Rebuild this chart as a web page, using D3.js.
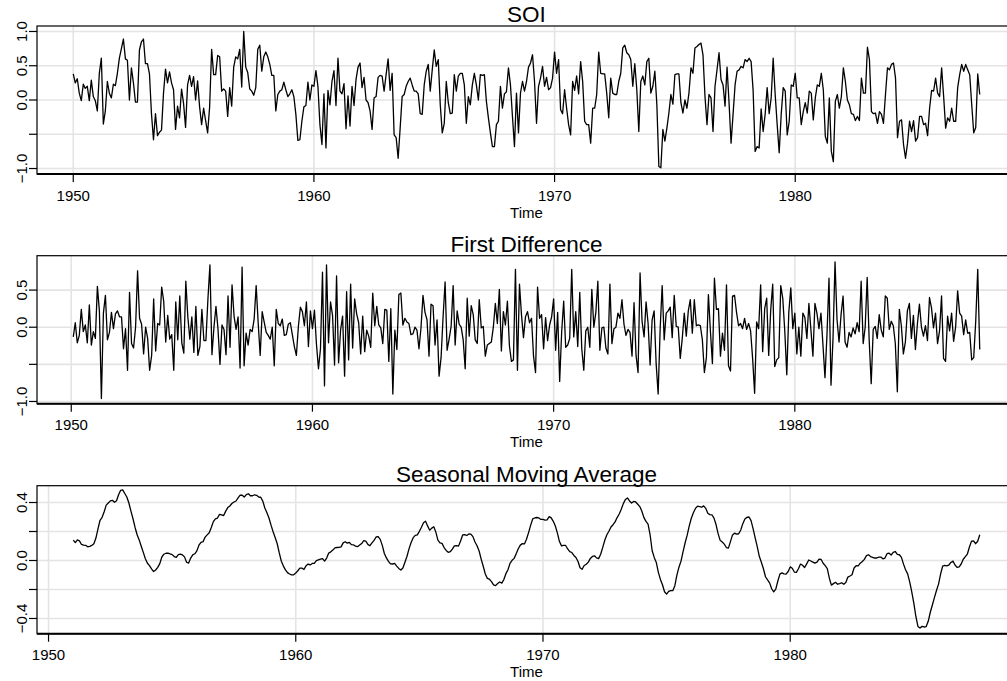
<!DOCTYPE html>
<html>
<head>
<meta charset="utf-8">
<script src="https://cdn.jsdelivr.net/npm/d3@7"></script>
<style>
  body { margin: 0; background: #fff; }
  svg { display: block; }
  text { font-family: "Liberation Sans", Arial, Helvetica, sans-serif; fill: #000; }
</style>
</head>
<body>
<div id="chart"></div>
<script>
// Monthly SOI, Jan 1950 - Sep 1987, one array per decade
const soi1950s = [
   0.38,  0.25,  0.31,  0.10, -0.01,  0.23,  0.17,  0.20, -0.01,  0.29,  0.05, -0.01,
  -0.16,  0.39,  0.61, -0.35, -0.16,  0.27,  0.10,  0.03,  0.23,  0.21,  0.39,  0.61,
   0.75,  0.89,  0.60,  0.58,  0.00,  0.47,  0.25, -0.03, -0.03,  0.73,  0.85,  0.89,
   0.53,  0.53,  0.38, -0.20, -0.58, -0.20, -0.52, -0.47, -0.44,  0.10,  0.45,  0.25,
   0.41,  0.25,  0.15, -0.43, -0.09, -0.26,  0.16, -0.05, -0.40,  0.22,  0.36,  0.20,
   0.34,  0.00,  0.28, -0.10, -0.36, -0.12, -0.30, -0.48, -0.10,  0.74,  0.37,  0.37,
   0.65,  0.63,  0.13,  0.16,  0.13, -0.24,  0.18, -0.09,  0.48,  0.63,  0.60,  0.74,
   0.19,  1.00,  0.48,  0.40,  0.16,  0.13,  0.07,  0.18,  0.74,  0.80,  0.42,  0.63,
   0.70,  0.63,  0.52,  0.36,  0.36, -0.16,  0.08,  0.13,  0.15,  0.26,  0.15,  0.05,
   0.09,  0.15,  0.05, -0.21, -0.59, -0.58, -0.31, -0.10, -0.08,  0.26,  0.00,  0.22
];
const soi1960s = [
   0.20,  0.43,  0.20, -0.36, -0.65,  0.09, -0.70,  0.14, -0.07,  0.27,  0.43, -0.08,
   0.61,  0.13,  0.09,  0.24, -0.42,  0.06, -0.38,  0.20, -0.08,  0.30,  0.48,  0.54,
   0.18,  0.33,  0.00, -0.04, -0.16, -0.43,  0.03,  0.05,  0.33,  0.36,  0.35,  0.13,
   0.37,  0.60,  0.14,  0.39, -0.51, -0.55, -0.85, -0.41,  0.05,  0.08,  0.20,  0.27,
   0.32,  0.22,  0.13,  0.13,  0.09, -0.20, -0.21,  0.22,  0.42,  0.52,  0.13,  0.44,
   0.73,  0.49,  0.59, -0.07, -0.48, -0.34,  0.27, -0.04, -0.20, -0.19,  0.37,  0.13,
   0.35,  0.39,  0.39,  0.22, -0.34,  0.05, -0.07,  0.22,  0.39,  0.22,  0.00,  0.37,
   0.36,  0.37, -0.02, -0.26, -0.48, -0.68, -0.68, -0.36, -0.31,  0.20, -0.12,  0.09,
   0.12,  0.47,  0.22, -0.24, -0.68,  0.10, -0.48,  0.10,  0.27,  0.13,  0.27,  0.48,
   0.54,  0.66,  0.27, -0.34,  0.20,  0.32,  0.49,  0.20,  0.33,  0.15,  0.18,  0.32
];
const soi1970s = [
   0.70,  0.39,  0.59, -0.14, -0.20,  0.15, -0.12, -0.36, -0.51,  0.27,  0.14,  0.35,
   0.09,  0.56,  0.27, -0.31, -0.36, -0.36, -0.63, -0.12, -0.12,  0.08,  0.70,  0.39,
   0.38,  0.38,  0.10, -0.26,  0.32,  0.10,  0.08,  0.08,  0.27,  0.39,  0.76,  0.80,
   0.69,  0.66,  0.59,  0.20,  0.53,  0.15, -0.46,  0.27,  0.35,  0.22,  0.56,  0.61,
   0.10,  0.20,  0.42, -0.07, -0.97, -0.99, -0.43, -0.60, -0.41, -0.19,  0.08, -0.06,
   0.37,  0.38,  0.38, -0.04, -0.19,  0.00, -0.12,  0.10,  0.47,  0.39,  0.76,  0.78,
   0.81,  0.83,  0.66,  0.05, -0.36,  0.08,  0.03, -0.46,  0.20,  0.44,  0.69,  0.30,
   0.22, -0.09,  0.48, -0.04, -0.63, -0.21,  0.22,  0.42,  0.44,  0.49,  0.47,  0.59,
   0.56,  0.61,  0.56,  0.14, -0.75, -0.68, -0.70, -0.13, -0.46, -0.21,  0.18, -0.20,
   0.03,  0.61,  0.08, -0.36, -0.77, -0.21,  0.18,  0.13, -0.51, -0.31,  0.22,  0.20
];
const soi1980s = [
   0.39,  0.03,  0.03, -0.36, -0.17, -0.04, -0.19,  0.13,  0.10, -0.29,  0.03,  0.22,
   0.20,  0.39,  0.15, -0.53, -0.63,  0.03, -0.75, -0.90, -0.02,  0.08, -0.12,  0.05,
   0.47,  0.27,  0.00, -0.07, -0.20, -0.21, -0.30, -0.24, -0.30,  0.32,  0.10,  0.10,
   0.77,  0.59, -0.17, -0.20, -0.19, -0.34, -0.17, -0.21, -0.34,  0.08,  0.47,  0.44,
   0.52,  0.54,  0.32, -0.55, -0.31, -0.29, -0.65, -0.85, -0.63, -0.31, -0.46, -0.30,
  -0.60, -0.55, -0.24, -0.24, -0.36, -0.34, -0.52, -0.12,  0.14,  0.13,  0.32,  0.10,
   0.05,  0.47,  0.05, -0.41, -0.26, -0.31, -0.12, -0.31, -0.31,  0.18,  0.37,  0.52,
   0.42,  0.52,  0.44,  0.37, -0.07, -0.48, -0.40,  0.38,  0.08
];

const startYear = 1950;
const freq = 12;

const panelTitles = ["SOI", "First Difference", "Seasonal Moving Average"];
const xTicks = [1950, 1960, 1970, 1980];
// y ranges of each panel
const yRanges = [[-1.08, 1.08], [-1.03, 0.963], [-0.505, 0.516]];
const yGridValues = [[-1, -0.5, 0, 0.5, 1], [-1, -0.5, 0, 0.5], [-0.4, -0.2, 0, 0.2, 0.4]];
const yLabelValues = [[-1, 0, 0.5, 1], [-1, 0, 0.5], [-0.4, 0, 0.4]];

// series
const soi = [].concat(soi1950s, soi1960s, soi1970s, soi1980s);
const soiSeries = soi.map((v, i) => ({ t: startYear + i / freq, v }));

// diff(soi)
const diffSeries = soi.slice(1).map((v, i) => ({ t: startYear + (i + 1) / freq, v: v - soi[i] }));

// kernapply(soi, modified.daniell 6), dated to end with the series
const kw = [0.5, 1, 1, 1, 1, 1, 1, 1, 1, 1, 1, 1, 0.5].map(w => w / 12);
const maSeries = [];
for (let i = 12; i < soi.length; i++) {
    let s = 0;
    for (let j = 0; j < 13; j++) s += kw[j] * soi[i - 12 + j];
    maSeries.push({ t: startYear + i / freq, v: s });
}

const allSeries = [soiSeries, diffSeries, maSeries];

// layout
const W = 1007, H = 681;
const left = 37, right = 1016;
const panelTops = [26, 255.7, 485.7];
const panelH = 148;

const svg = d3.select("#chart").append("svg")
    .attr("width", W)
    .attr("height", H);

svg.append("rect").attr("width", W).attr("height", H).attr("fill", "#fff");

const fmt = d3.format(".1f");

allSeries.forEach((series, p) => {
    const top = panelTops[p];
    const bottom = top + panelH;

    // R style 4% padding on time
    const tExt = d3.extent(series, d => d.t);
    const pad = (tExt[1] - tExt[0]) * 0.04;
    const x = d3.scaleLinear().domain([tExt[0] - pad, tExt[1] + pad]).range([left, right]);
    const y = d3.scaleLinear().domain(yRanges[p]).range([bottom, top]);

    const g = svg.append("g");

    // grid
    g.selectAll("line.hgrid")
        .data(yGridValues[p])
        .enter().append("line")
        .attr("x1", left).attr("x2", right)
        .attr("y1", d => y(d)).attr("y2", d => y(d))
        .attr("stroke", "#e4e4e4").attr("stroke-width", 1.6);

    g.selectAll("line.vgrid")
        .data(xTicks)
        .enter().append("line")
        .attr("x1", d => x(d)).attr("x2", d => x(d))
        .attr("y1", top).attr("y2", bottom)
        .attr("stroke", "#e4e4e4").attr("stroke-width", 1.6);

    // series line
    const line = d3.line().x(d => x(d.t)).y(d => y(d.v));
    g.append("path")
        .datum(series)
        .attr("d", line)
        .attr("fill", "none")
        .attr("stroke", "#000")
        .attr("stroke-width", 1.3)
        .attr("stroke-linejoin", "round");

    // box
    g.append("rect")
        .attr("x", left).attr("y", top)
        .attr("width", right - left).attr("height", panelH)
        .attr("fill", "none").attr("stroke", "#000").attr("stroke-width", 1.2);
    g.append("line")
        .attr("x1", left).attr("x2", right)
        .attr("y1", bottom).attr("y2", bottom)
        .attr("stroke", "#000").attr("stroke-width", 2);

    // x axis
    const xAxis = g.append("g");
    xTicks.forEach(t => {
        xAxis.append("line")
            .attr("x1", x(t)).attr("x2", x(t))
            .attr("y1", bottom).attr("y2", bottom + 8)
            .attr("stroke", "#000").attr("stroke-width", 1.2);
        xAxis.append("text")
            .attr("x", x(t)).attr("y", bottom + 26.5)
            .attr("text-anchor", "middle")
            .style("font-size", "15px")
            .text(t);
    });

    // y axis
    const yAxis = g.append("g");
    yGridValues[p].forEach(v => {
        yAxis.append("line")
            .attr("x1", left - 8).attr("x2", left)
            .attr("y1", y(v)).attr("y2", y(v))
            .attr("stroke", "#000").attr("stroke-width", 1.2);
    });
    yLabelValues[p].forEach(v => {
        yAxis.append("text")
            .attr("transform", `translate(27,${y(v)}) rotate(-90)`)
            .attr("text-anchor", "middle")
            .style("font-size", "15px")
            .text(fmt(v));
    });

    // x label
    g.append("text")
        .attr("x", (left + right) / 2).attr("y", bottom + 43.5)
        .attr("text-anchor", "middle")
        .style("font-size", "15px")
        .text("Time");

    // title
    g.append("text")
        .attr("x", (left + right) / 2).attr("y", top - 4)
        .attr("text-anchor", "middle")
        .style("font-size", "22.5px")
        .text(panelTitles[p]);
});
</script>
</body>
</html>
